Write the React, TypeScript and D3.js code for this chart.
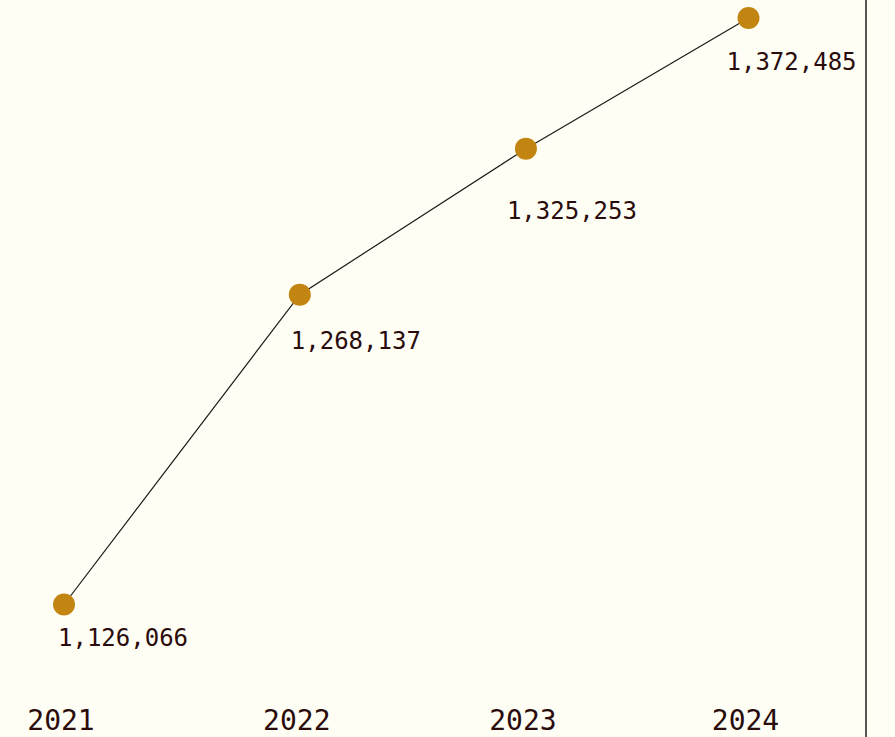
import { useEffect, useRef } from 'react'
import * as d3 from 'd3'

const years = ['2021', '2022', '2023', '2024']
const totals = [1126066, 1268137, 1325253, 1372485]

// label placement relative to each point (start of text, baseline)
const labelDx = [-6, -9, -19, -22]
const labelDy = [41, 54, 70, 52]

export default function App() {
  const svgRef = useRef<SVGSVGElement>(null)
  const width = 895
  const height = 737

  useEffect(() => {
    if (!svgRef.current) return
    const svg = d3.select(svgRef.current)
    svg.selectAll('*').remove()

    svg.append('rect')
      .attr('width', width)
      .attr('height', height)
      .attr('fill', '#fffef4')

    // slightly compressed spacing toward the right, as in the original
    const x = d3.scalePow()
      .exponent(0.97)
      .domain([0, years.length - 1])
      .range([64, 748.5])

    const ext = d3.extent(totals) as [number, number]
    const y = d3.scalePow()
      .exponent(3)
      .domain(ext)
      .range([604.5, 18])

    const data = years.map((yr, i) => ({ year: yr, value: totals[i], i }))

    // right border line
    svg.append('line')
      .attr('x1', 866)
      .attr('x2', 866)
      .attr('y1', 0)
      .attr('y2', height)
      .attr('stroke', '#1f1f1f')
      .attr('stroke-width', 1.5)

    const line = d3.line<typeof data[0]>()
      .x(d => x(d.i))
      .y(d => y(d.value))

    svg.append('path')
      .datum(data)
      .attr('d', line)
      .attr('fill', 'none')
      .attr('stroke', '#1a1a1a')
      .attr('stroke-width', 1.2)

    svg.append('g')
      .selectAll('circle')
      .data(data)
      .join('circle')
      .attr('cx', d => x(d.i))
      .attr('cy', d => y(d.value))
      .attr('r', 11)
      .attr('fill', '#c38511')

    const fmt = d3.format(',')

    svg.append('g')
      .selectAll('text')
      .data(data)
      .join('text')
      .attr('x', d => x(d.i) + labelDx[d.i])
      .attr('y', d => y(d.value) + labelDy[d.i])
      .attr('font-family', '"DejaVu Sans Mono", monospace')
      .attr('font-size', 24)
      .attr('fill', '#2b0c0c')
      .text(d => fmt(d.value))

    svg.append('g')
      .selectAll('text')
      .data(data)
      .join('text')
      .attr('x', d => x(d.i) - 3)
      .attr('y', 730)
      .attr('text-anchor', 'middle')
      .attr('font-family', '"DejaVu Sans Mono", monospace')
      .attr('font-size', 28)
      .attr('fill', '#2b0c0c')
      .text(d => d.year)
  }, [])

  return (
    <svg
      ref={svgRef}
      width={width}
      height={height}
      style={{ position: 'absolute', left: 0, top: 0, display: 'block' }}
    />
  )
}
